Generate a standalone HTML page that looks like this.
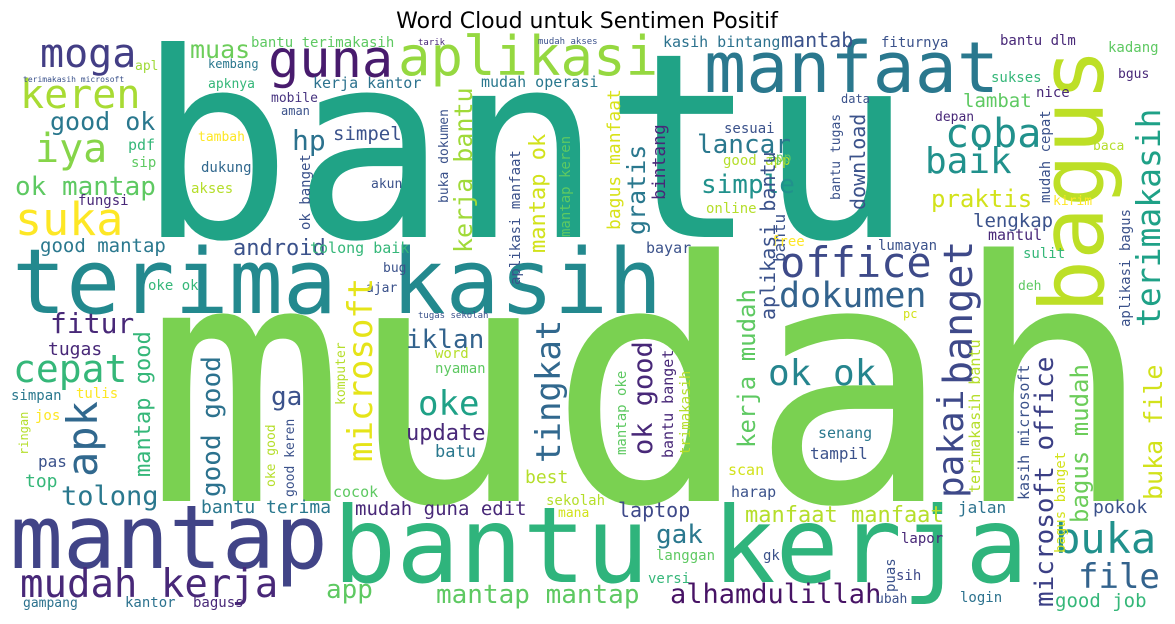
<!DOCTYPE html>
<html><head><meta charset="utf-8"><style>
html,body{margin:0;padding:0;background:#fff;}
svg{display:block;}
</style></head><body>
<svg id="cloud" width="1175" height="624" viewBox="0 0 1175 624" xmlns="http://www.w3.org/2000/svg">
<rect x="0" y="0" width="1175" height="624" fill="#ffffff"/>
<text x="587" y="28" text-anchor="middle" font-family="DejaVu Sans, Liberation Sans, sans-serif" font-size="22" fill="#000">Word Cloud untuk Sentimen Positif</text>
<g id="words" font-family="DejaVu Sans Mono, Liberation Mono, monospace"></g>
</svg>
<script>
const words = ["bantu","mudah","terima kasih","mantap","bantu kerja","bagus","manfaat","aplikasi","guna","moga","keren","iya","good ok","ok mantap","suka","good mantap","muas","bantu terimakasih","apl","kembang","apknya","kerja kantor","mobile","aman","hp","simpel","pdf","sip","tambah","dukung","akses","fungsi","ok banget","akun","android","tolong baik","bug","oke ok","ajar","fitur","microsoft","kasih bintang","mudah operasi","kerja bantu","buka dokumen","aplikasi manfaat","mantap ok","mantap keren","bagus manfaat","gratis","bintang","lancar","sesuai","simple","good app","online","bantu","bayar","free","mantab","fiturnya","bantu dlm","kadang","bgus","sukses","nice","data","lambat","download","bantu tugas","depan","coba","baik","praktis","mudah cepat","baca","kirim","lengkap","mantul","lumayan","sulit","deh","pc","app","aplikasi bagus","aplikasi bantu","office","dokumen","banget","pakai","terimakasih","ok ok","mudah kerja","app","gampang","kantor","baguss","mantap mantap","alhamdulillah","versi","langgan","gk","gak","laptop","mudah guna edit","bantu terima","sekolah","mana","best","scan","harap","manfaat manfaat","jalan","pokok","lapor","sih","puas","ubah","login","buka","file","good job","microsoft office","bagus mudah","buka file","kasih microsoft","bagus banget","terimakasih bantu","senang","tampil","iklan","word","nyaman","oke","update","batu","tingkat","ok good","mantap oke","bantu banget","trimakasih","kerja mudah","cepat","tugas","simpan","tulis","jos","pas","top","ringan","apk","tolong","mantap good","good good","ga","komputer","oke good","good keren","cocok","tarik","mudah akses","tugas sekolah","terimakasih microsoft"];
const fontSizes = [258,335,90,88,105,88,70,54,52,40,40,40,25,26,45,19,25,14,13,12,13,15,13,12,28,19,15,14,13,14,14,14,14,13,22,15,13,14,13,28,34,15,15,25,13,14,22,14,18,25,18,26,14,26,14,14,16,15,14,20,14,14,14,13,14,14,12,19,20,13,13,40,36,24,14,13,13,19,15,14,14,13,12,13,14,20,42,35,40,36,33,36,39,26,13,14,14,26,27,14,14,14,26,20,19,18,14,13,18,15,15,22,16,18,14,14,14,13,14,42,34,19,26,24,25,15,14,15,15,16,26,14,14,34,22,17,34,27,14,15,14,24,38,18,14,14,14,16,18,12,42,27,22,26,26,13,13,13,15,9,9,9,8];
const xs = [137,145,12,10,333,1103,704,398,268,40,20,35,50,15,15,40,190,251,135,208,208,313,271,281,292,333,128,131,198,201,191,78,310,371,233,310,383,148,366,50,372,663,481,472,448,520,545,570,620,645,665,697,724,701,723,706,785,646,771,781,881,1000,1108,1118,991,1036,841,963,865,840,935,945,925,931,1050,1093,1053,973,988,878,1023,1018,903,768,1130,775,780,779,972,963,1160,768,20,326,23,125,193,436,670,648,656,763,656,618,355,201,546,558,525,728,731,745,958,1093,901,896,895,876,960,1055,1078,1055,1053,1088,1162,1029,1065,980,818,810,406,435,435,418,406,435,560,652,626,673,690,755,13,48,11,76,35,38,25,28,97,61,150,220,271,345,275,294,333,418,538,418,23];
const ys = [237,501,313,568,582,313,92,75,77,67,108,162,130,195,235,252,58,47,70,68,88,88,102,115,150,140,150,167,141,172,193,205,230,188,255,253,272,290,292,333,462,47,87,253,203,285,253,237,230,235,200,153,133,193,165,213,262,253,246,47,47,45,52,78,82,97,103,107,210,200,121,147,173,207,203,150,205,227,240,250,258,290,318,162,327,320,277,307,385,498,327,385,597,598,607,607,607,603,603,583,560,560,543,517,515,513,505,517,483,475,497,522,513,513,543,580,592,603,602,553,588,607,607,523,500,500,553,493,438,459,348,358,373,415,440,457,463,455,455,458,455,448,382,355,400,398,420,467,487,455,477,505,477,497,405,405,487,497,497,45,44,318,82];
const verticalIdx = [5,32,40,43,44,45,46,47,48,49,50,56,68,69,74,84,85,88,89,90,116,122,123,124,125,126,127,136,137,138,139,140,141,149,150,152,153,155,156,157];
const colors = ["#20a386","#7ad151","#23898e","#414487","#2fb47c","#bddf26","#2a788e","#95d840","#481b6d","#433e85","#a8db34","#86d549","#2a788e","#5ec962","#fde725","#2a788e","#6ccd5a","#5ec962","#a0da39","#2a788e","#35b779","#2c728e","#46337f","#3b528b","#2c728e","#3b528b","#35b779","#5ec962","#fde725","#31688e","#b5de2b","#482878","#3b528b","#3b528b","#3b528b","#35b779","#3b528b","#35b779","#3b528b","#482878","#e5e419","#2c728e","#2a788e","#a0da39","#3b528b","#3b528b","#d2e21b","#5ec962","#d8e219","#2a788e","#482878","#2a788e","#3b528b","#21918c","#b5de2b","#b5de2b","#3b528b","#3b528b","#fde725","#3b528b","#3b528b","#482878","#5ec962","#482878","#35b779","#482878","#3b528b","#5ec962","#3b528b","#3b528b","#482878","#21918c","#21918c","#d2e21b","#3b528b","#b5de2b","#fde725","#3b528b","#482878","#3b528b","#35b779","#5ec962","#d2e21b","#5ec962","#3b528b","#3b528b","#3e4a89","#33638d","#3e4989","#3e4989","#1fa187","#25858e","#482878","#5ec962","#2c728e","#2c728e","#482878","#5ec962","#471365","#35b779","#5ec962","#3b528b","#2a788e","#3e4989","#482878","#2a788e","#b5de2b","#d2e21b","#b5de2b","#d2e21b","#3b528b","#b5de2b","#2c728e","#3b528b","#482878","#3e4989","#3b528b","#3b528b","#2c728e","#21918c","#33638d","#35b779","#3b3f85","#6ccd5a","#d2e21b","#3b528b","#d2e21b","#b5de2b","#2a788e","#3b528b","#33638d","#b5de2b","#5ec962","#1fa187","#482878","#2a788e","#31688e","#482878","#5ec962","#482878","#b5de2b","#5ec962","#35b779","#482878","#2a788e","#fde725","#fde725","#3b528b","#35b779","#b5de2b","#31688e","#2a788e","#35b779","#2c728e","#3b528b","#b5de2b","#b5de2b","#3b528b","#5ec962","#482878","#3b528b","#3b528b","#3b528b"];

const NS = "http://www.w3.org/2000/svg";
const g = document.getElementById("words");
for (let i = 0; i < words.length; i++) {
  const t = document.createElementNS(NS, "text");
  t.setAttribute("x", xs[i]);
  t.setAttribute("y", ys[i]);
  t.setAttribute("font-size", fontSizes[i]);
  t.setAttribute("fill", colors[i]);
  if (verticalIdx.indexOf(i) >= 0) t.setAttribute("transform", "rotate(-90 " + xs[i] + " " + ys[i] + ")");
  t.textContent = words[i];
  
  
  g.appendChild(t);
}
</script>
</body></html>
